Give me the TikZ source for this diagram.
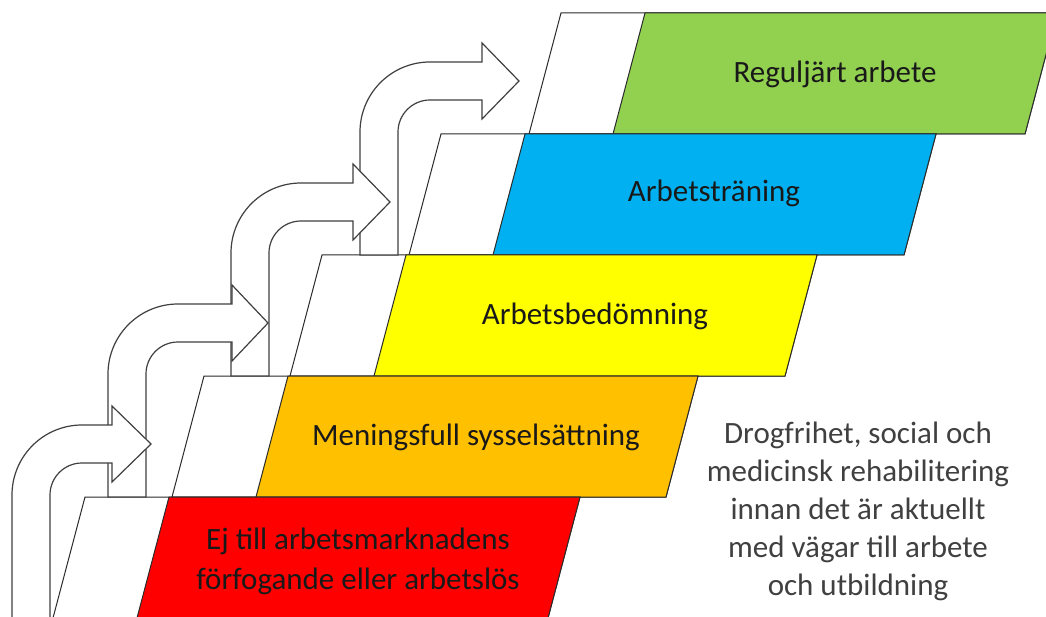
\documentclass[tikz,border=0pt]{standalone}
\usepackage{fontspec}
\setmainfont{Carlito}
\definecolor{cgreen}{HTML}{92D050}
\definecolor{cblue}{HTML}{00B0F0}
\definecolor{cyellow}{HTML}{FFFF00}
\definecolor{corange}{HTML}{FFC000}
\definecolor{cred}{HTML}{FF0000}
\definecolor{lineclr}{HTML}{2B2B2B}
\definecolor{sidetext}{HTML}{404040}
\tikzset{
  outl/.style={draw=lineclr, line width=1pt, line join=miter},
  arr/.style={draw=lineclr!90, fill=white, line width=1.2pt},
  lbl/.style={inner sep=0pt, anchor=base, font=\fontsize{31}{40}\selectfont, text=black!90},
  lbltwo/.style={inner sep=0pt, align=center, font=\fontsize{31}{40}\selectfont, text=black!90},
  side/.style={inner sep=0pt, align=center, font=\fontsize{31}{38}\selectfont, text=sidetext},
}
% top y, white-left x, colour-left x, right x, colour (pixel values, y downward)
\newcommand{\drawstage}[5]{%
  \filldraw[outl, fill=white] (#2,-#1) -- (#4,-#1) -- ({#4-32},{-(#1+121)}) -- ({#2-32},{-(#1+121)}) -- cycle;
  \filldraw[outl, fill=#5] (#3,-#1) -- (#4,-#1) -- ({#4-32},{-(#1+121)}) -- ({#3-32},{-(#1+121)}) -- cycle;
}
% shaft x, shaft bottom y, body top y, head base x, tip x
\newcommand{\bentarrow}[5]{%
  \filldraw[arr] (#1,-#2) -- (#1,{-(#3+70)}) arc[start angle=180,end angle=90,radius=70]
    -- (#4,-#3) -- (#4,{-(#3-19)}) -- (#5,{-(#3+19)}) -- (#4,{-(#3+57)}) -- (#4,{-(#3+38)})
    -- ({#1+70},{-(#3+38)}) arc[start angle=90,end angle=180,radius=32]
    -- ({#1+38},-#2) -- cycle;
}
\begin{document}
\begin{tikzpicture}[x=1pt,y=1pt]
\useasboundingbox (0,0) rectangle (1046,-617);
\clip (0,0) rectangle (1046,-617);
\fill[white] (0,0) rectangle (1046,-617);

% stages
\drawstage{13}{561}{645}{1057}{cgreen}
\drawstage{134}{441}{525}{936}{cblue}
\drawstage{255}{322}{406}{817}{cyellow}
\drawstage{376}{204}{288}{698}{corange}
\drawstage{497}{85}{169}{580}{cred}

% bent arrows (upper first, lower drawn on top)
\bentarrow{360}{255}{62}{482}{519}
\bentarrow{231}{376}{183}{353}{390}
\bentarrow{108}{497}{304}{232}{268}
\bentarrow{12}{640}{425}{112}{151}

% labels
\node[lbl] (regular) at (835,-83) {Reguljärt arbete};
\node[lbl] (training) at (714,-202) {Arbetsträning};
\node[lbl] (assess) at (595,-325) {Arbetsbedömning};
\node[lbl] (meaning) at (476,-445) {Meningsfull sysselsättning};
\node[lbltwo] (notavail) at (358,-561) {Ej till arbetsmarknadens\\förfogande eller arbetslös};
\node[side] (sidenote) at (858,-511) {Drogfrihet, social och\\medicinsk rehabilitering\\innan det är aktuellt\\med vägar till arbete\\och utbildning};
\end{tikzpicture}
\end{document}
